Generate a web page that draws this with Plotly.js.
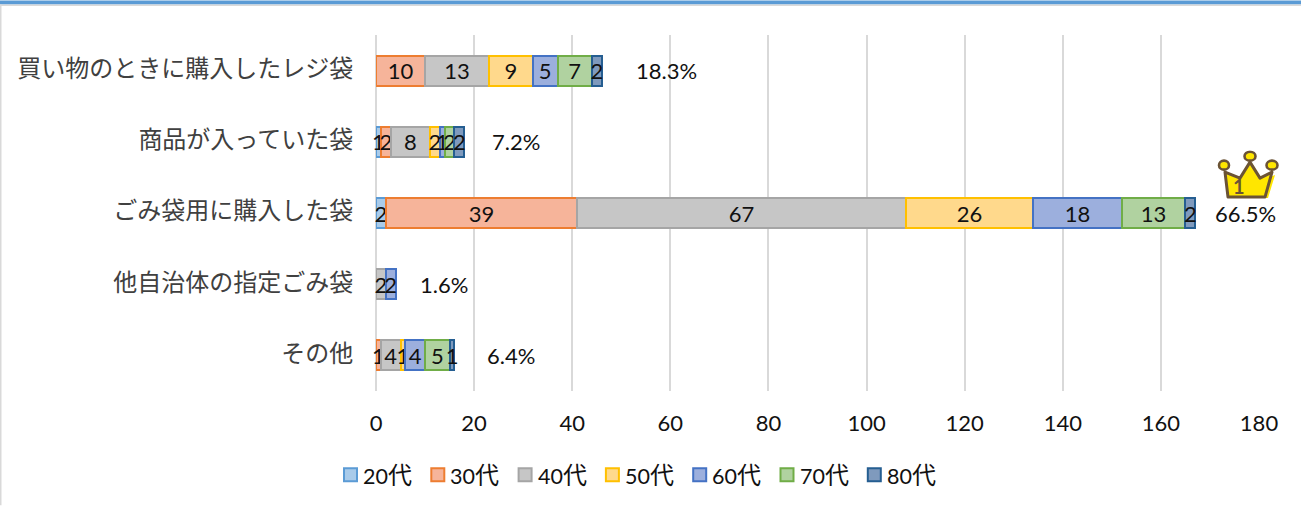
<!DOCTYPE html>
<html><head><meta charset="utf-8">
<script src="https://cdn.plot.ly/plotly-3.0.1.min.js"></script>
<style>html,body{margin:0;padding:0;background:#fff;overflow:hidden}#c{width:1301px;height:506px}</style>
</head><body><div id="c"></div>
<script>
const categories = ['買い物のときに購入したレジ袋','商品が入っていた袋','ごみ袋用に購入した袋','他自治体の指定ごみ袋','その他'];
const ages = ['20代','30代','40代','50代','60代','70代','80代'];
const v20 = [null,1,2,null,null];
const v30 = [10,2,39,null,1];
const v40 = [13,8,67,2,4];
const v50 = [9,2,26,null,1];
const v60 = [5,1,18,2,4];
const v70 = [7,2,13,null,5];
const v80 = [2,2,2,null,1];
const lineColors = ['#5B9BD5','#ED7D31','#A5A5A5','#FFC000','#4472C4','#70AD47','#255E91'];
const fillColors = ['#A9CBEA','#F6B49A','#C6C6C6','#FFD98C','#9CAFDD','#B0D2A0','#7F9ABD'];
const totals = ['18.3%','7.2%','66.5%','1.6%','6.4%'];
const totalX = [59.3,28.6,177.3,13.9,27.5];
const tickVals = [0,20,40,60,80,100,120,140,160,180];

const W=1301,H=506,L=376,R=1259,T=34.5,B=391.5;
const px=x=>(x-L)/(R-L), py=y=>(B-y)/(B-T);
const latin='Lato, "Noto Sans CJK JP", sans-serif';
const series=[v20,v30,v40,v50,v60,v70,v80];
const traces=series.map((vals,i)=>({
  type:'bar',orientation:'h',name:ages[i],y:categories,x:vals,showlegend:false,
  marker:{color:fillColors[i],line:{color:lineColors[i],width:2}},
  text:vals.map(v=>v==null?'':String(v)),
  textposition:'inside',insidetextanchor:'middle',constraintext:'none',textangle:0,cliponaxis:false,
  textfont:{family:latin,size:22,color:'#111'},hoverinfo:'x+name'
}));
const crown='<svg xmlns="http://www.w3.org/2000/svg" width="66" height="50" viewBox="0 0 66 50">'+
 '<path d="M11 25 L15 48 L52 48 L59 25 L46 30 L36 13 L26 30 Z" fill="#FFE600"/>'+
 '<path d="M9 22 L12 47 L49 47 L56 22 L44 28 L34 12 L24 28 Z" fill="#FFE600" stroke="#6B5335" stroke-width="3" stroke-linejoin="round"/>'+
 '<ellipse cx="8" cy="15" rx="5" ry="4.5" fill="#FFE600" stroke="#6B5335" stroke-width="2.6"/>'+
 '<ellipse cx="34" cy="6" rx="5.5" ry="4.5" fill="#FFE600" stroke="#6B5335" stroke-width="2.6"/>'+
 '<ellipse cx="56" cy="15" rx="5.5" ry="4.5" fill="#FFE600" stroke="#6B5335" stroke-width="2.6"/></svg>';
const annotations=totals.map((t,i)=>({x:totalX[i],y:categories[i],text:t,showarrow:false,xanchor:'center',yanchor:'middle',
  font:{family:latin,size:22,color:'#111'}}));
annotations.push({xref:'paper',yref:'paper',x:px(1247),y:py(186),text:'<b>1</b>',showarrow:false,font:{family:latin,size:20,color:'#6B5335'}});
const shapes=[
  {type:'rect',xref:'paper',yref:'paper',x0:px(0),x1:px(W),y0:py(0),y1:py(4),fillcolor:'#5B9BD5',line:{width:0}},
  {type:'rect',xref:'paper',yref:'paper',x0:px(0),x1:px(W),y0:py(4),y1:py(5.5),fillcolor:'#D9D9D9',line:{width:0}},
  {type:'rect',xref:'paper',yref:'paper',x0:px(0),x1:px(1.5),y0:py(4),y1:py(H),fillcolor:'#D9D9D9',line:{width:0}}
];
ages.forEach((a,i)=>{
  const x0=344+i*87.3;
  shapes.push({type:'rect',xref:'paper',yref:'paper',x0:px(x0),x1:px(x0+13),y0:py(469),y1:py(482),fillcolor:fillColors[i],line:{color:lineColors[i],width:2}});
  annotations.push({xref:'paper',yref:'paper',x:px(x0+17),y:py(475),xanchor:'left',yanchor:'middle',showarrow:false,
    text:a.slice(0,-1)+'<span style="font-size:24px">'+a.slice(-1)+'</span>',font:{family:latin,size:21.5,color:'#111'}});
});
const layout={
  width:W,height:H,margin:{l:L,r:W-R,t:T,b:H-B,pad:0},paper_bgcolor:'#fff',plot_bgcolor:'#fff',
  barmode:'stack',bargap:0.58,showlegend:false,
  xaxis:{range:[0,180],tickvals:tickVals,ticktext:tickVals.map(String),showgrid:true,gridcolor:'#D9D9D9',gridwidth:2,zeroline:true,zerolinecolor:'#D9D9D9',zerolinewidth:2,
    showline:false,ticks:'outside',ticklen:13,tickcolor:'rgba(0,0,0,0)',tickfont:{family:latin,size:22,color:'#111'}},
  yaxis:{categoryorder:'array',categoryarray:categories,autorange:'reversed',showgrid:false,zeroline:false,showline:false,
    ticks:'outside',ticklen:17,tickcolor:'rgba(0,0,0,0)',ticklabelshift:2,tickfont:{family:'"Noto Sans CJK JP", sans-serif',size:24,color:'#404040'}},
  annotations,shapes,
  images:[{source:'data:image/svg+xml;charset=utf-8,'+encodeURIComponent(crown),xref:'paper',yref:'paper',x:px(1216),y:py(150),sizex:px(1282)-px(1216),sizey:py(150)-py(200),xanchor:'left',yanchor:'top',sizing:'stretch',layer:'above'}]
};
Plotly.newPlot('c',traces,layout,{displayModeBar:false,responsive:false});
</script></body></html>
